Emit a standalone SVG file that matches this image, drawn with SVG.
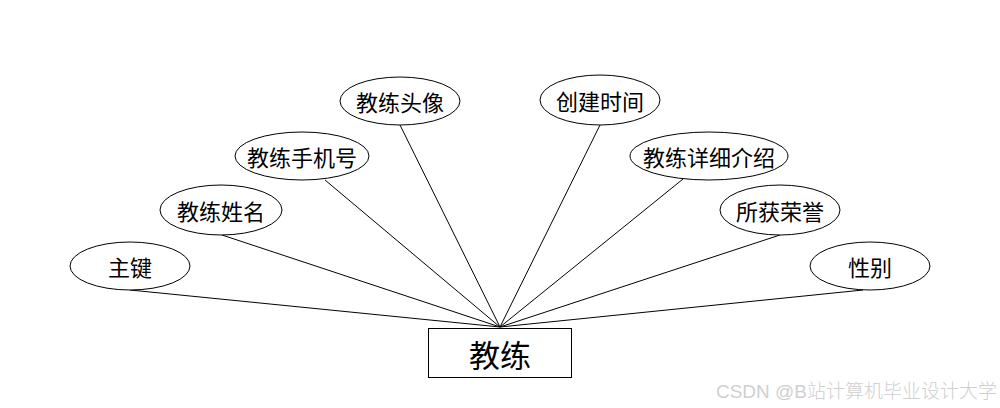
<svg xmlns="http://www.w3.org/2000/svg" width="1000" height="408" viewBox="0 0 1000 408">
<style>
.e{fill:#fff;stroke:#000;stroke-width:1}
.t{font-family:"Noto Sans CJK SC","Microsoft YaHei",sans-serif;font-size:22px;fill:#000;text-anchor:middle;dominant-baseline:central}
.c line{stroke:#000;stroke-width:1}
</style>
<rect width="1000" height="408" fill="#fff"/>
<g class="c" id="connectors">
<line x1="130" y1="290" x2="500" y2="327"/>
<line x1="222" y1="235" x2="500" y2="327"/>
<line x1="325" y1="180" x2="500" y2="327"/>
<line x1="400" y1="125" x2="500" y2="327"/>
<line x1="600" y1="125" x2="500" y2="327"/>
<line x1="683" y1="179" x2="500" y2="327"/>
<line x1="780" y1="235" x2="500" y2="327"/>
<line x1="863" y1="290" x2="500" y2="327"/>
</g>
<g id="n_zhujian"><ellipse class="e" cx="130" cy="266" rx="60" ry="24"/><text class="t" x="130" y="266">主键</text></g>
<g id="n_xingming"><ellipse class="e" cx="221" cy="210" rx="61" ry="25"/><text class="t" x="221" y="210">教练姓名</text></g>
<g id="n_shouji"><ellipse class="e" cx="302" cy="156" rx="67" ry="24"/><text class="t" x="302" y="156">教练手机号</text></g>
<g id="n_touxiang"><ellipse class="e" cx="400" cy="101" rx="60" ry="24"/><text class="t" x="400" y="101">教练头像</text></g>
<g id="n_chuangjian"><ellipse class="e" cx="600" cy="100" rx="60" ry="25"/><text class="t" x="600" y="100">创建时间</text></g>
<g id="n_jieshao"><ellipse class="e" cx="709" cy="156" rx="79" ry="24"/><text class="t" x="709" y="156">教练详细介绍</text></g>
<g id="n_rongyu"><ellipse class="e" cx="780" cy="210" rx="60" ry="25"/><text class="t" x="780" y="210">所获荣誉</text></g>
<g id="n_xingbie"><ellipse class="e" cx="870" cy="266" rx="60" ry="24"/><text class="t" x="870" y="266">性别</text></g>
<g id="n_jiaolian"><rect x="428.5" y="328.5" width="143" height="49" fill="#fff" stroke="#000" stroke-width="1"/><text class="t" x="500" y="353" style="font-size:31px">教练</text></g>
<text x="997" y="391" style="font-family:'Liberation Sans','Noto Sans CJK SC',sans-serif;font-size:19px;font-weight:300;fill:#cfcfcf;text-anchor:end;dominant-baseline:central">CSDN @B站计算机毕业设计大学</text>
</svg>
